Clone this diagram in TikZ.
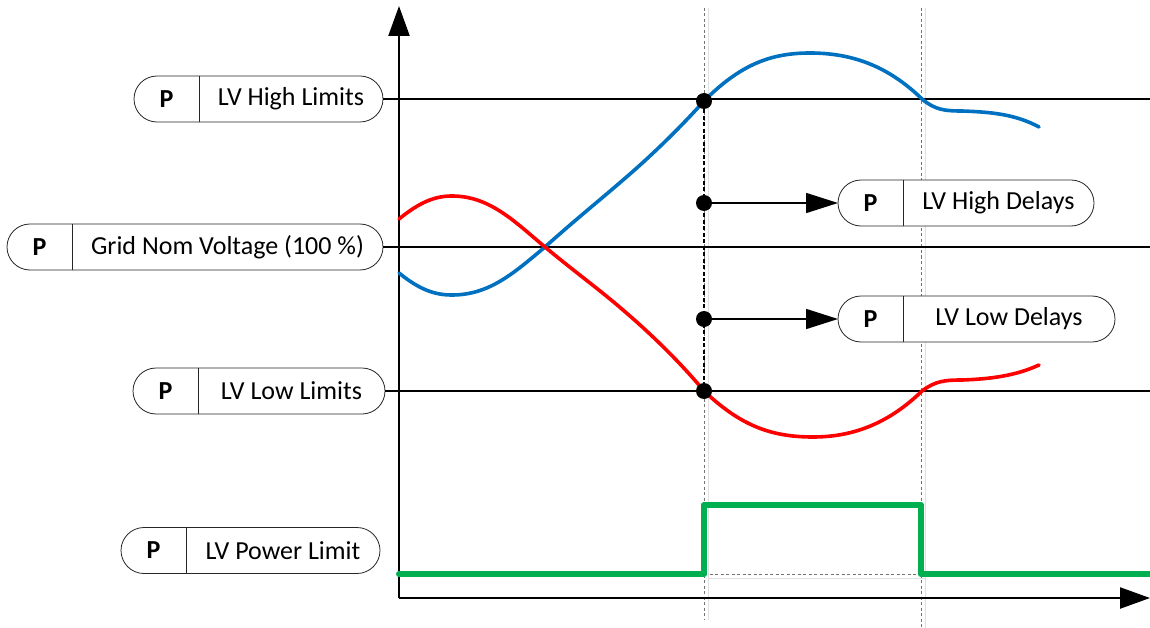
\documentclass[tikz,border=0pt]{standalone}
\usepackage{fontspec}
\setmainfont{Carlito}
\usetikzlibrary{arrows.meta,positioning,calc}
\definecolor{voltBlue}{RGB}{0,112,192}
\definecolor{voltRed}{RGB}{255,0,0}
\definecolor{powerGreen}{RGB}{0,176,80}

\begin{document}
\begin{tikzpicture}[x=1pt,y=-1pt,font=\fontsize{26}{30}\selectfont,
  param/.style={rectangle,rounded corners=23pt,minimum height=46pt,inner sep=0pt,outer sep=0pt,
                draw=black!85,line width=0.8pt,fill=white},
  pkey/.style={rectangle,minimum height=46pt,minimum width=65pt,inner sep=0pt,outer sep=0pt,
               font=\fontsize{26}{30}\selectfont\bfseries},
  divider/.style={draw=black!85,line width=0.8pt},
  level/.style={line width=2pt},
  axis/.style={line width=2.4pt,-{Triangle[length=30pt,width=21pt]}},
  marker/.style={line width=1pt,draw=black!55,dash pattern=on 3pt off 2.5pt},
  markshadow/.style={line width=1pt,draw=black!12},
  tick/.style={circle,fill=black,inner sep=0pt,minimum size=16pt},
  delay/.style={line width=1.6pt,-{Triangle[length=32pt,width=20pt]}},
  curve/.style={line width=3.6pt,line cap=round}]

  \useasboundingbox (0,0) rectangle (1150,628);
  \coordinate (xend) at (1150,0);

  % time markers
  \coordinate (tAtop) at (704,8);   \coordinate (tAbot) at (704,620);
  \coordinate (tBtop) at (921,8);   \coordinate (tBbot) at (921,628);
  \draw[markshadow] ([xshift=4pt]tAtop) -- ([xshift=4pt]tAbot);
  \draw[markshadow] ([xshift=4pt]tBtop) -- ([xshift=4pt]tBbot);
  \draw[marker] (tAtop) -- (tAbot);
  \draw[marker] (tBtop) -- (tBbot);

  % axes
  \coordinate (origin) at (399,598);
  \draw[axis] (origin) -- (399,6);
  \draw[axis] (origin) -- (1150,598);

  % parameter boxes
  \node[param,minimum width=249pt] (hl) at (258.5,99) {};
  \node[pkey,anchor=west] (hlP) at (hl.west) {P};
  \draw[divider] (hlP.north east) -- (hlP.south east);
  \node at ($(hlP.east)!0.5!(hl.east)$) {LV High Limits};

  \node[param,minimum width=376pt] (gn) at (195,247) {};
  \node[pkey,anchor=west] (gnP) at (gn.west) {P};
  \draw[divider] (gnP.north east) -- (gnP.south east);
  \node at ($(gnP.east)!0.5!(gn.east)$) {Grid Nom Voltage (100 \%)};

  \node[param,minimum width=252pt] (ll) at (259,391) {};
  \node[pkey,anchor=west] (llP) at (ll.west) {P};
  \draw[divider] (llP.north east) -- (llP.south east);
  \node at ($(llP.east)!0.5!(ll.east)$) {LV Low Limits};

  \node[param,minimum width=259pt] (pl) at (250.5,550.5) {};
  \node[pkey,anchor=west] (plP) at (pl.west) {P};
  \draw[divider] (plP.north east) -- (plP.south east);
  \node at ($(plP.east)!0.5!(pl.east)$) {LV Power Limit};

  % level lines
  \draw[level] (hl.east) -- (hl.east -| xend);
  \draw[level] (gn.east) -- (gn.east -| xend);
  \draw[level] (ll.east) -- (ll.east -| xend);

  % voltage curves
  \draw[curve,voltBlue] (399,273) .. controls (420,290) and (435,295) .. (452,295)
    .. controls (490,295) and (515,272) .. (545,247)
    .. controls (575,220) and (600,200) .. (623,180)
    .. controls (650,157) and (680,128) .. (704,101)
    .. controls (740,65) and (770,53) .. (810,53)
    .. controls (855,53) and (890,68) .. (922,99)
    .. controls (935,110) and (945,111) .. (962,111)
    .. controls (990,112) and (1015,114) .. (1039,127);
  \draw[curve,voltRed] (399,219) .. controls (420,202) and (435,196) .. (452,196)
    .. controls (490,196) and (515,222) .. (545,247)
    .. controls (575,272) and (600,290) .. (623,310)
    .. controls (650,333) and (680,362) .. (704,391)
    .. controls (740,425) and (770,437) .. (813,437)
    .. controls (855,437) and (890,422) .. (922,391)
    .. controls (935,381) and (945,380) .. (962,380)
    .. controls (990,379) and (1015,376) .. (1039,365);

  % power limit pulse
  \coordinate (pwA) at (399,574);
  \coordinate (pwB) at (704,574);
  \coordinate (pwC) at (704,505);
  \coordinate (pwD) at (921,505);
  \coordinate (pwE) at (921,574);
  \coordinate (pwF) at (1150,574);
  \draw[markshadow] ([shift={(4pt,-4pt)}]pwB) -- ([shift={(4pt,-4pt)}]pwE);
  \draw[marker] (pwB) -- (pwE);
  \draw[line width=6pt,black!15,line join=round,shift={(4pt,-4pt)}]
    (pwA) -- (pwB) -- (pwC) -- (pwD) -- (pwE) -- (pwF);
  \draw[line width=6pt,powerGreen,line join=round,line cap=round]
    (pwA) -- (pwB) -- (pwC) -- (pwD) -- (pwE) -- (pwF);

  % trip points
  \node[tick] (dHL) at (704,101) {};
  \node[tick] (dHD) at (704,203) {};
  \node[tick] (dLD) at (704,319) {};
  \node[tick] (dLL) at (704,391) {};
  \draw[line width=1.8pt,dash pattern=on 4pt off 2.5pt] (dHL) -- (dLL);

  % delay boxes
  \node[param,minimum width=256pt] (hd) at (966,203) {};
  \node[pkey,anchor=west] (hdP) at (hd.west) {P};
  \draw[divider] (hdP.north east) -- (hdP.south east);
  \node at ($(hdP.east)!0.5!(hd.east)$) {LV High Delays};

  \node[param,minimum width=277pt] (ld) at (976.5,319) {};
  \node[pkey,anchor=west] (ldP) at (ld.west) {P};
  \draw[divider] (ldP.north east) -- (ldP.south east);
  \node at ($(ldP.east)!0.5!(ld.east)$) {LV Low Delays};

  \draw[delay] (dHD) -- (hd.west);
  \draw[delay] (dLD) -- (ld.west);
\end{tikzpicture}
\end{document}
